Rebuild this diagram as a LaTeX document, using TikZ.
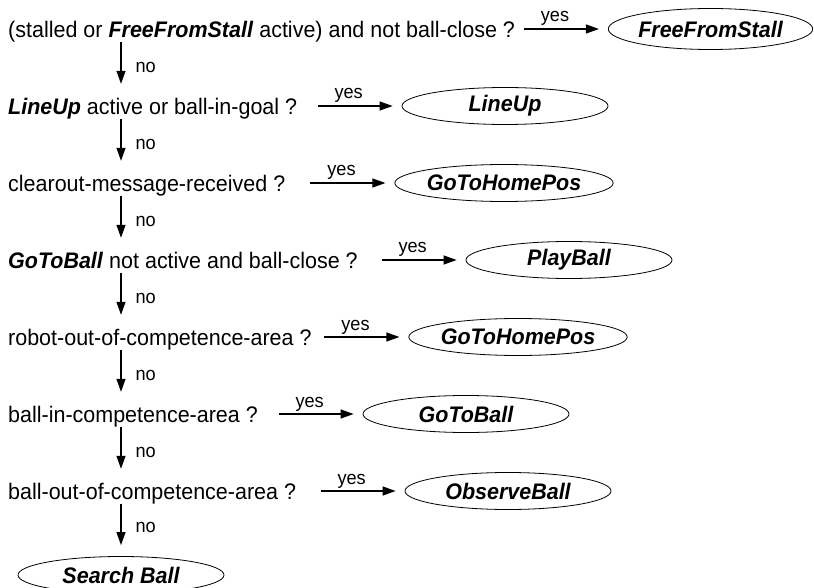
\documentclass[tikz,border=0pt]{standalone}
\usepackage{fontspec}
\setmainfont{Liberation Sans}[FakeStretch=0.955]
\usetikzlibrary{shapes.geometric,arrows.meta}

\begin{document}
\begin{tikzpicture}[
		x=1pt, y=-1pt,
		every node/.style={inner sep=0pt},
		cond/.style={anchor=base west, text height=16.5pt, text depth=4pt, font=\fontsize{22.5}{27}\selectfont},
		act/.style={ellipse, draw, line width=0.8pt, minimum width=206pt, minimum height=37pt, font=\fontsize{22.5}{27}\selectfont\bfseries\itshape},
		lbl/.style={font=\fontsize{19}{22}\selectfont},
		arr/.style={line width=1.2pt, -{Triangle[length=13pt,width=9pt]}}
	]
  \clip (0,0) rectangle (814,588);
  \coordinate (spine) at (121,0);
  % questions
  \node (c1) [cond] at (8,37.5) {(stalled or \textbf{\textit{FreeFromStall}} active) and not ball-close ?};
  \node (c2) [cond] at (8,114.5) {\textbf{\textit{LineUp}} active or ball-in-goal ?};
  \node (c3) [cond] at (8,191.5) {clearout-message-received ?};
  \node (c4) [cond] at (8,268.5) {\textbf{\textit{GoToBall}} not active and ball-close ?};
  \node (c5) [cond] at (8,345.5) {robot-out-of-competence-area ?};
  \node (c6) [cond] at (8,422.5) {ball-in-competence-area ?};
  \node (c7) [cond] at (8,499.5) {ball-out-of-competence-area ?};
  % behaviours
  \node (a1) [act, minimum width=185pt, minimum height=41pt] at (710.5,29) {FreeFromStall};
  \node (a2) [act] at (505,106) {LineUp};
  \node (a3) [act] at (504,183) {GoToHomePos};
  \node (a4) [act] at (569,260) {PlayBall};
  \node (a5) [act] at (518,337) {GoToHomePos};
  \node (a6) [act] at (466,414) {GoToBall};
  \node (a7) [act] at (508,491) {ObserveBall};
  \node (search) [act] at (121,575) {Search Ball};
  % yes
  \coordinate (y1) at ([xshift=-84pt]a1.west);
  \coordinate (y2) at ([xshift=-84pt]a2.west);
  \coordinate (y3) at ([xshift=-84pt]a3.west);
  \coordinate (y4) at ([xshift=-84pt]a4.west);
  \coordinate (y5) at ([xshift=-84pt]a5.west);
  \coordinate (y6) at ([xshift=-84pt]a6.west);
  \coordinate (y7) at ([xshift=-84pt]a7.west);
  \draw [arr, shorten >=9pt] (y1) -- (a1.west) node [lbl, pos=0.37, anchor=base, yshift=7pt] {yes};
  \draw [arr, shorten >=9pt] (y2) -- (a2.west) node [lbl, pos=0.37, anchor=base, yshift=7pt] {yes};
  \draw [arr, shorten >=9pt] (y3) -- (a3.west) node [lbl, pos=0.37, anchor=base, yshift=7pt] {yes};
  \draw [arr, shorten >=9pt] (y4) -- (a4.west) node [lbl, pos=0.37, anchor=base, yshift=7pt] {yes};
  \draw [arr, shorten >=9pt] (y5) -- (a5.west) node [lbl, pos=0.37, anchor=base, yshift=7pt] {yes};
  \draw [arr, shorten >=9pt] (y6) -- (a6.west) node [lbl, pos=0.37, anchor=base, yshift=7pt] {yes};
  \draw [arr, shorten >=9pt] (y7) -- (a7.west) node [lbl, pos=0.37, anchor=base, yshift=7pt] {yes};
  % no
  \draw [arr, shorten >=14pt] (c1.south -| spine) -- (c2.north -| spine) node [lbl, midway, anchor=base west, xshift=14pt, yshift=-3pt] {no};
  \draw [arr, shorten >=14pt] (c2.south -| spine) -- (c3.north -| spine) node [lbl, midway, anchor=base west, xshift=14pt, yshift=-3pt] {no};
  \draw [arr, shorten >=14pt] (c3.south -| spine) -- (c4.north -| spine) node [lbl, midway, anchor=base west, xshift=14pt, yshift=-3pt] {no};
  \draw [arr, shorten >=14pt] (c4.south -| spine) -- (c5.north -| spine) node [lbl, midway, anchor=base west, xshift=14pt, yshift=-3pt] {no};
  \draw [arr, shorten >=14pt] (c5.south -| spine) -- (c6.north -| spine) node [lbl, midway, anchor=base west, xshift=14pt, yshift=-3pt] {no};
  \draw [arr, shorten >=14pt] (c6.south -| spine) -- (c7.north -| spine) node [lbl, midway, anchor=base west, xshift=14pt, yshift=-3pt] {no};
  \draw [arr, shorten >=11pt] (c7.south -| spine) -- (search.north) node [lbl, midway, anchor=base west, xshift=14pt, yshift=-3pt] {no};
\end{tikzpicture}
\end{document}
